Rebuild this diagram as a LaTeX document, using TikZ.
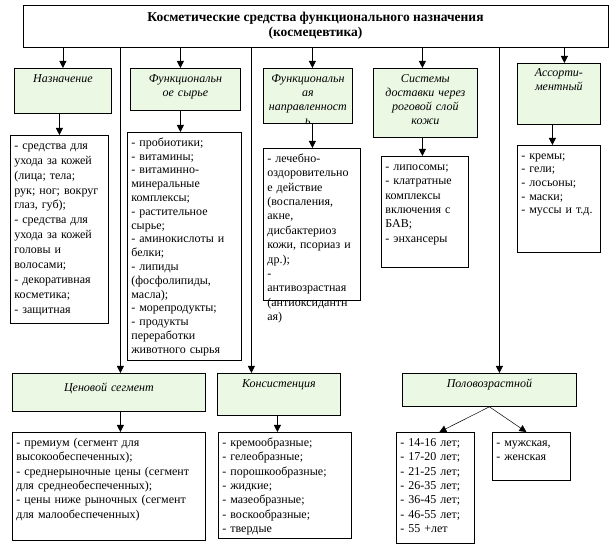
\documentclass[tikz,border=0pt]{standalone}
\usepackage{fontspec}
\setmainfont{Liberation Serif}
\usetikzlibrary{arrows.meta, positioning}
\definecolor{hdrgreen}{RGB}{234,248,228}

\begin{document}
\begin{tikzpicture}[
    x=1pt, y=-1pt,
    block/.style={rectangle, draw, line width=0.8pt, inner xsep=4pt, inner ysep=3pt, text height=11pt, anchor=north west},
    hdr/.style={block, fill=hdrgreen, align=center, font=\fontsize{12}{14.2}\selectfont\itshape},
    list/.style={block, fill=white, align=left, font=\fontsize{12}{14.4}\selectfont},
    arrow/.style={-{Triangle[width=7pt, length=7pt]}, line width=0.8pt},
    diag/.style={-{Triangle[width=7pt, length=7pt]}, line width=0.5pt}
]

\useasboundingbox (0,0) rectangle (611,553);

\node[draw, line width=0.8pt, minimum width=585pt, minimum height=42pt, align=center, font=\fontsize{13.5}{15.5}\selectfont\bfseries] (title) at (315.5,26) {Косметические средства функционального назначения\\(космецевтика)};


\node[hdr, text width=89pt, text depth=28pt] (nazn) at (14,68) {Назначение};
\node[hdr, text width=102pt, text depth=25pt] (syrye) at (130,68) {Функциональн\\ое сырье};
\node[hdr, text width=81pt, text depth=38pt] (napr) at (263,68) {Функциональн\\ая\\направленност\\ь};
\node[hdr, text width=96pt, text depth=52pt] (dost) at (373,68) {Системы\\доставки через\\роговой слой\\кожи};
\node[hdr, text width=75pt, text height=10pt, text depth=45pt] (assort) at (517,63) {Ассорти-\\ментный};


\node[list, text width=90pt, text depth=171pt, font=\fontsize{12}{14.9}\selectfont] (naznList) at (10,135) {- средства для\\ухода за кожей\\(лица; тела;\\рук; ног; вокруг\\глаз, губ);\\- средства для\\ухода за кожей\\головы и\\волосами;\\- декоративная\\косметика;\\- защитная};
\node[list, text width=106pt, text depth=211pt, font=\fontsize{12}{13.8}\selectfont] (syryeList) at (127,132) {- пробиотики;\\- витамины;\\- витаминно-\\минеральные\\комплексы;\\- растительное\\сырье;\\- аминокислоты и\\белки;\\- липиды\\(фосфолипиды,\\масла);\\- морепродукты;\\- продукты\\переработки\\животного сырья};
\node[list, text width=89pt, text depth=135pt, fill=none] (naprList) at (263,148) {- лечебно-\\оздоровительно\\е действие\\(воспаления,\\акне,\\дисбактериоз\\кожи, псориаз и\\др.);\\-\\антивозрастная\\(антиоксидантн\\ая)};
\node[list, text width=79pt, text depth=94pt] (dostList) at (381,156) {- липосомы;\\- клатратные\\комплексы\\включения с\\БАВ;\\- энхансеры};
\node[list, text width=75pt, text depth=90pt, font=\fontsize{12}{13.6}\selectfont] (assortList) at (517,145) {- кремы;\\- гели;\\- лосьоны;\\- маски;\\- муссы и т.д.};


\node[hdr, text width=185pt, text height=15pt, text depth=17pt] (price) at (12,373) {Ценовой сегмент};
\node[hdr, text width=115pt, text depth=25pt] (cons) at (217,373) {Консистенция};
\node[hdr, text width=166pt, text depth=16pt] (age) at (402,373) {Половозрастной};


\node[list, text width=185pt, text depth=91pt] (priceList) at (12,432) {- премиум (сегмент для\\высокообеспеченных);\\- среднерыночные цены (сегмент\\для среднеобеспеченных);\\- цены ниже рыночных (сегмент\\для малообеспеченных)};
\node[list, text width=125pt, text depth=89pt] (consList) at (218,432) {- кремообразные;\\- гелеобразные;\\- порошкообразные;\\- жидкие;\\- мазеобразные;\\- воскообразные;\\- твердые};
\node[list, text width=70pt, text depth=94pt] (ageList) at (396,432) {- 14-16 лет;\\- 17-20 лет;\\- 21-25 лет;\\- 26-35 лет;\\- 36-45 лет;\\- 46-55 лет;\\- 55 +лет};
\node[list, text width=70pt, text depth=31pt] (sexList) at (492,432) {- мужская,\\- женская};


\coordinate (naznOut) at ([xshift=-3.5pt]nazn.south);
\coordinate (syryeIn) at ([xshift=-5pt]syrye.north);
\coordinate (syryeOut) at ([xshift=-5pt]syrye.south);
\coordinate (naprIn) at ([xshift=4.5pt]napr.north);
\coordinate (naprOut) at ([xshift=4.5pt]napr.south);
\coordinate (dostIn) at ([xshift=-3pt]dost.north);
\coordinate (dostOut) at ([xshift=-3pt]dost.south);
\coordinate (assortIn) at ([xshift=5.5pt]assort.north);
\coordinate (assortOut) at ([xshift=-6.5pt]assort.south);
\coordinate (priceIn) at ([xshift=11.5pt]price.north);
\coordinate (priceOut) at ([xshift=11.5pt]price.south);
\coordinate (consIn) at ([xshift=-27.5pt]cons.north);
\coordinate (consOut) at ([xshift=-1.5pt]cons.south);
\coordinate (ageIn) at ([xshift=10pt]age.north);

\draw[arrow] (title.south -| nazn.north) -- (nazn.north);
\draw[arrow] (title.south -| syryeIn) -- (syryeIn);
\draw[arrow] (title.south -| naprIn) -- (naprIn);
\draw[arrow] (title.south -| dostIn) -- (dostIn);
\draw[arrow] (title.south -| assortIn) -- (assortIn);

\draw[arrow] (naznOut) -- (naznOut |- naznList.north);
\draw[arrow] (syryeOut) -- (syryeOut |- syryeList.north);
\draw[arrow] (naprOut) -- (naprOut |- naprList.north);
\draw[arrow] (dostOut) -- (dostOut |- dostList.north);
\draw[arrow] (assortOut) -- (assortOut |- assortList.north);

\draw[arrow] (title.south -| priceIn) -- (priceIn);
\draw[arrow] (title.south -| consIn) -- (consIn);
\draw[arrow] (title.south -| ageIn) -- (ageIn);

\draw[arrow] (priceOut) -- (priceOut |- priceList.north);
\draw[arrow] (consOut) -- (consOut |- consList.north);
\draw[diag] (age.south) -- ([xshift=4pt]ageList.north);
\draw[diag] (age.south) -- ([xshift=-5pt]sexList.north);

\end{tikzpicture}
\end{document}
